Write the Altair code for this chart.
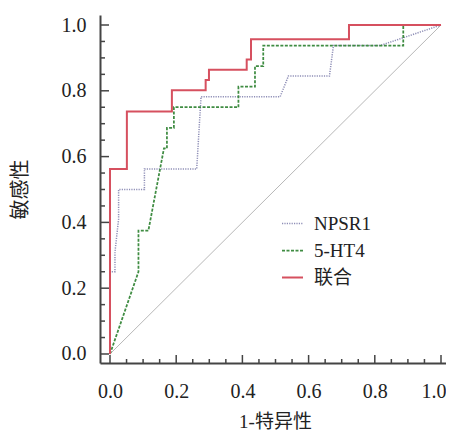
import altair as alt
import pandas as pd

# ---- data ----
series_names = ["NPSR1", "5-HT4", "联合"]

npsr1_x = [0, 0, 0.015, 0.015, 0.026, 0.026, 0.104, 0.104, 0.262, 0.275, 0.514, 0.539, 0.663, 0.675, 0.816, 1.0]
npsr1_y = [0, 0.25, 0.25, 0.31, 0.41, 0.5, 0.5, 0.5625, 0.5625, 0.782, 0.782, 0.845, 0.845, 0.9375, 0.9375, 1.0]

ht4_x = [0, 0.086, 0.086, 0.116, 0.163, 0.172, 0.172, 0.193, 0.193, 0.388, 0.388, 0.438, 0.438, 0.463, 0.463, 0.886, 0.886, 1.0]
ht4_y = [0, 0.25, 0.375, 0.375, 0.625, 0.625, 0.6875, 0.6875, 0.75, 0.75, 0.8125, 0.8125, 0.875, 0.875, 0.9375, 0.9375, 1.0, 1.0]

comb_x = [0, 0, 0.051, 0.051, 0.187, 0.187, 0.289, 0.289, 0.299, 0.299, 0.413, 0.413, 0.426, 0.426, 0.722, 0.722, 1.0]
comb_y = [0, 0.5625, 0.5625, 0.737, 0.737, 0.802, 0.802, 0.833, 0.833, 0.864, 0.864, 0.895, 0.895, 0.957, 0.957, 1.0, 1.0]

diag_x = [0, 1]
diag_y = [0, 1]

major_ticks = [0.0, 0.2, 0.4, 0.6, 0.8, 1.0]
minor_ticks = [0.05, 0.1, 0.15, 0.25, 0.3, 0.35, 0.45, 0.5, 0.55, 0.65, 0.7, 0.75, 0.85, 0.9, 0.95]

colors = ["#8e8eb6", "#3f8c42", "#d6505f"]
dashes = [[1.2, 1.2], [3, 1.5], [1, 0]]
widths = [1.5, 2, 2]

FONT = "Liberation Serif, Noto Sans CJK SC"

rows = []
for name, xs, ys in zip(series_names, [npsr1_x, ht4_x, comb_x], [npsr1_y, ht4_y, comb_y]):
    for i, (a, b) in enumerate(zip(xs, ys)):
        rows.append({"series": name, "x": a, "y": b, "i": i})
df = pd.DataFrame(rows)

W = 346
H = 348
xscale = alt.Scale(domain=[-0.0302, 1.0151], nice=False, zero=False)
yscale = alt.Scale(domain=[-0.0274, 1.0304], nice=False, zero=False)

xaxis = alt.Axis(values=major_ticks, format=".1f", grid=False, ticks=False,
                 domainColor="#444444", domainWidth=2, labelFont=FONT, labelFontSize=20,
                 labelColor="#222222", labelPadding=18, labelFlush=7, labelFlushOffset=5,
                 title="1-特异性", titleFont=FONT,
                 titleFontSize=19, titleFontWeight="normal", titleColor="#222222", titleY=49,
                 titleBaseline="top", titleX=175)
yaxis = alt.Axis(values=major_ticks, format=".1f", grid=False, ticks=False,
                 domainColor="#444444", domainWidth=2, labelFont=FONT, labelFontSize=20,
                 labelColor="#222222", labelPadding=14, title="敏感性", titleFont=FONT,
                 titleFontSize=20, titleFontWeight="normal", titleColor="#222222", titleX=-80,
                 titleBaseline="middle")

diag = alt.Chart(pd.DataFrame({"x": diag_x, "y": diag_y})).mark_line(
    color="#b8b8b8", strokeWidth=1
).encode(x=alt.X("x:Q", scale=xscale, axis=xaxis), y=alt.Y("y:Q", scale=yscale, axis=yaxis))

color_scale = alt.Scale(domain=series_names, range=colors)
dash_scale = alt.Scale(domain=series_names, range=dashes)
width_scale = alt.Scale(domain=series_names, range=widths)

legend = alt.Legend(title=None, orient="none", legendX=181, legendY=197,
                    symbolType="stroke", symbolSize=441, symbolStrokeWidth=1.5,
                    labelFont=FONT, labelFontSize=19, labelColor="#222222",
                    labelOffset=10, rowPadding=5)

layers = [diag]
for name in series_names:
    layers.append(
        alt.Chart(df[df.series == name]).mark_line(strokeJoin="miter").encode(
            x=alt.X("x:Q", scale=xscale),
            y=alt.Y("y:Q", scale=yscale),
            color=alt.Color("series:N", scale=color_scale, legend=legend),
            strokeDash=alt.StrokeDash("series:N", scale=dash_scale, legend=legend),
            strokeWidth=alt.StrokeWidth("series:N", scale=width_scale, legend=None),
            order=alt.Order("i:Q"),
        )
    )

xmaj = alt.Chart(pd.DataFrame({"t": major_ticks})).mark_rule(color="#444444", strokeWidth=1.5).encode(
    x=alt.X("t:Q", scale=xscale), y=alt.value(H), y2=alt.value(H - 8))
xmin = alt.Chart(pd.DataFrame({"t": minor_ticks})).mark_rule(color="#444444", strokeWidth=1.5).encode(
    x=alt.X("t:Q", scale=xscale), y=alt.value(H), y2=alt.value(H - 4))
ymaj = alt.Chart(pd.DataFrame({"t": major_ticks})).mark_rule(color="#444444", strokeWidth=1.5).encode(
    y=alt.Y("t:Q", scale=yscale), x=alt.value(0), x2=alt.value(9))
ymin = alt.Chart(pd.DataFrame({"t": minor_ticks})).mark_rule(color="#444444", strokeWidth=1.5).encode(
    y=alt.Y("t:Q", scale=yscale), x=alt.value(0), x2=alt.value(5))

chart = alt.layer(*layers, xmaj, xmin, ymaj, ymin).properties(
    width=W, height=H,
    autosize=alt.AutoSizeParams(type="none"),
    padding={"left": 92, "top": 7, "right": 0, "bottom": 68},
).configure_view(stroke=None).resolve_scale(color="shared", strokeDash="shared")

chart.save("out.html", embed_options={"renderer": "svg", "actions": False})
